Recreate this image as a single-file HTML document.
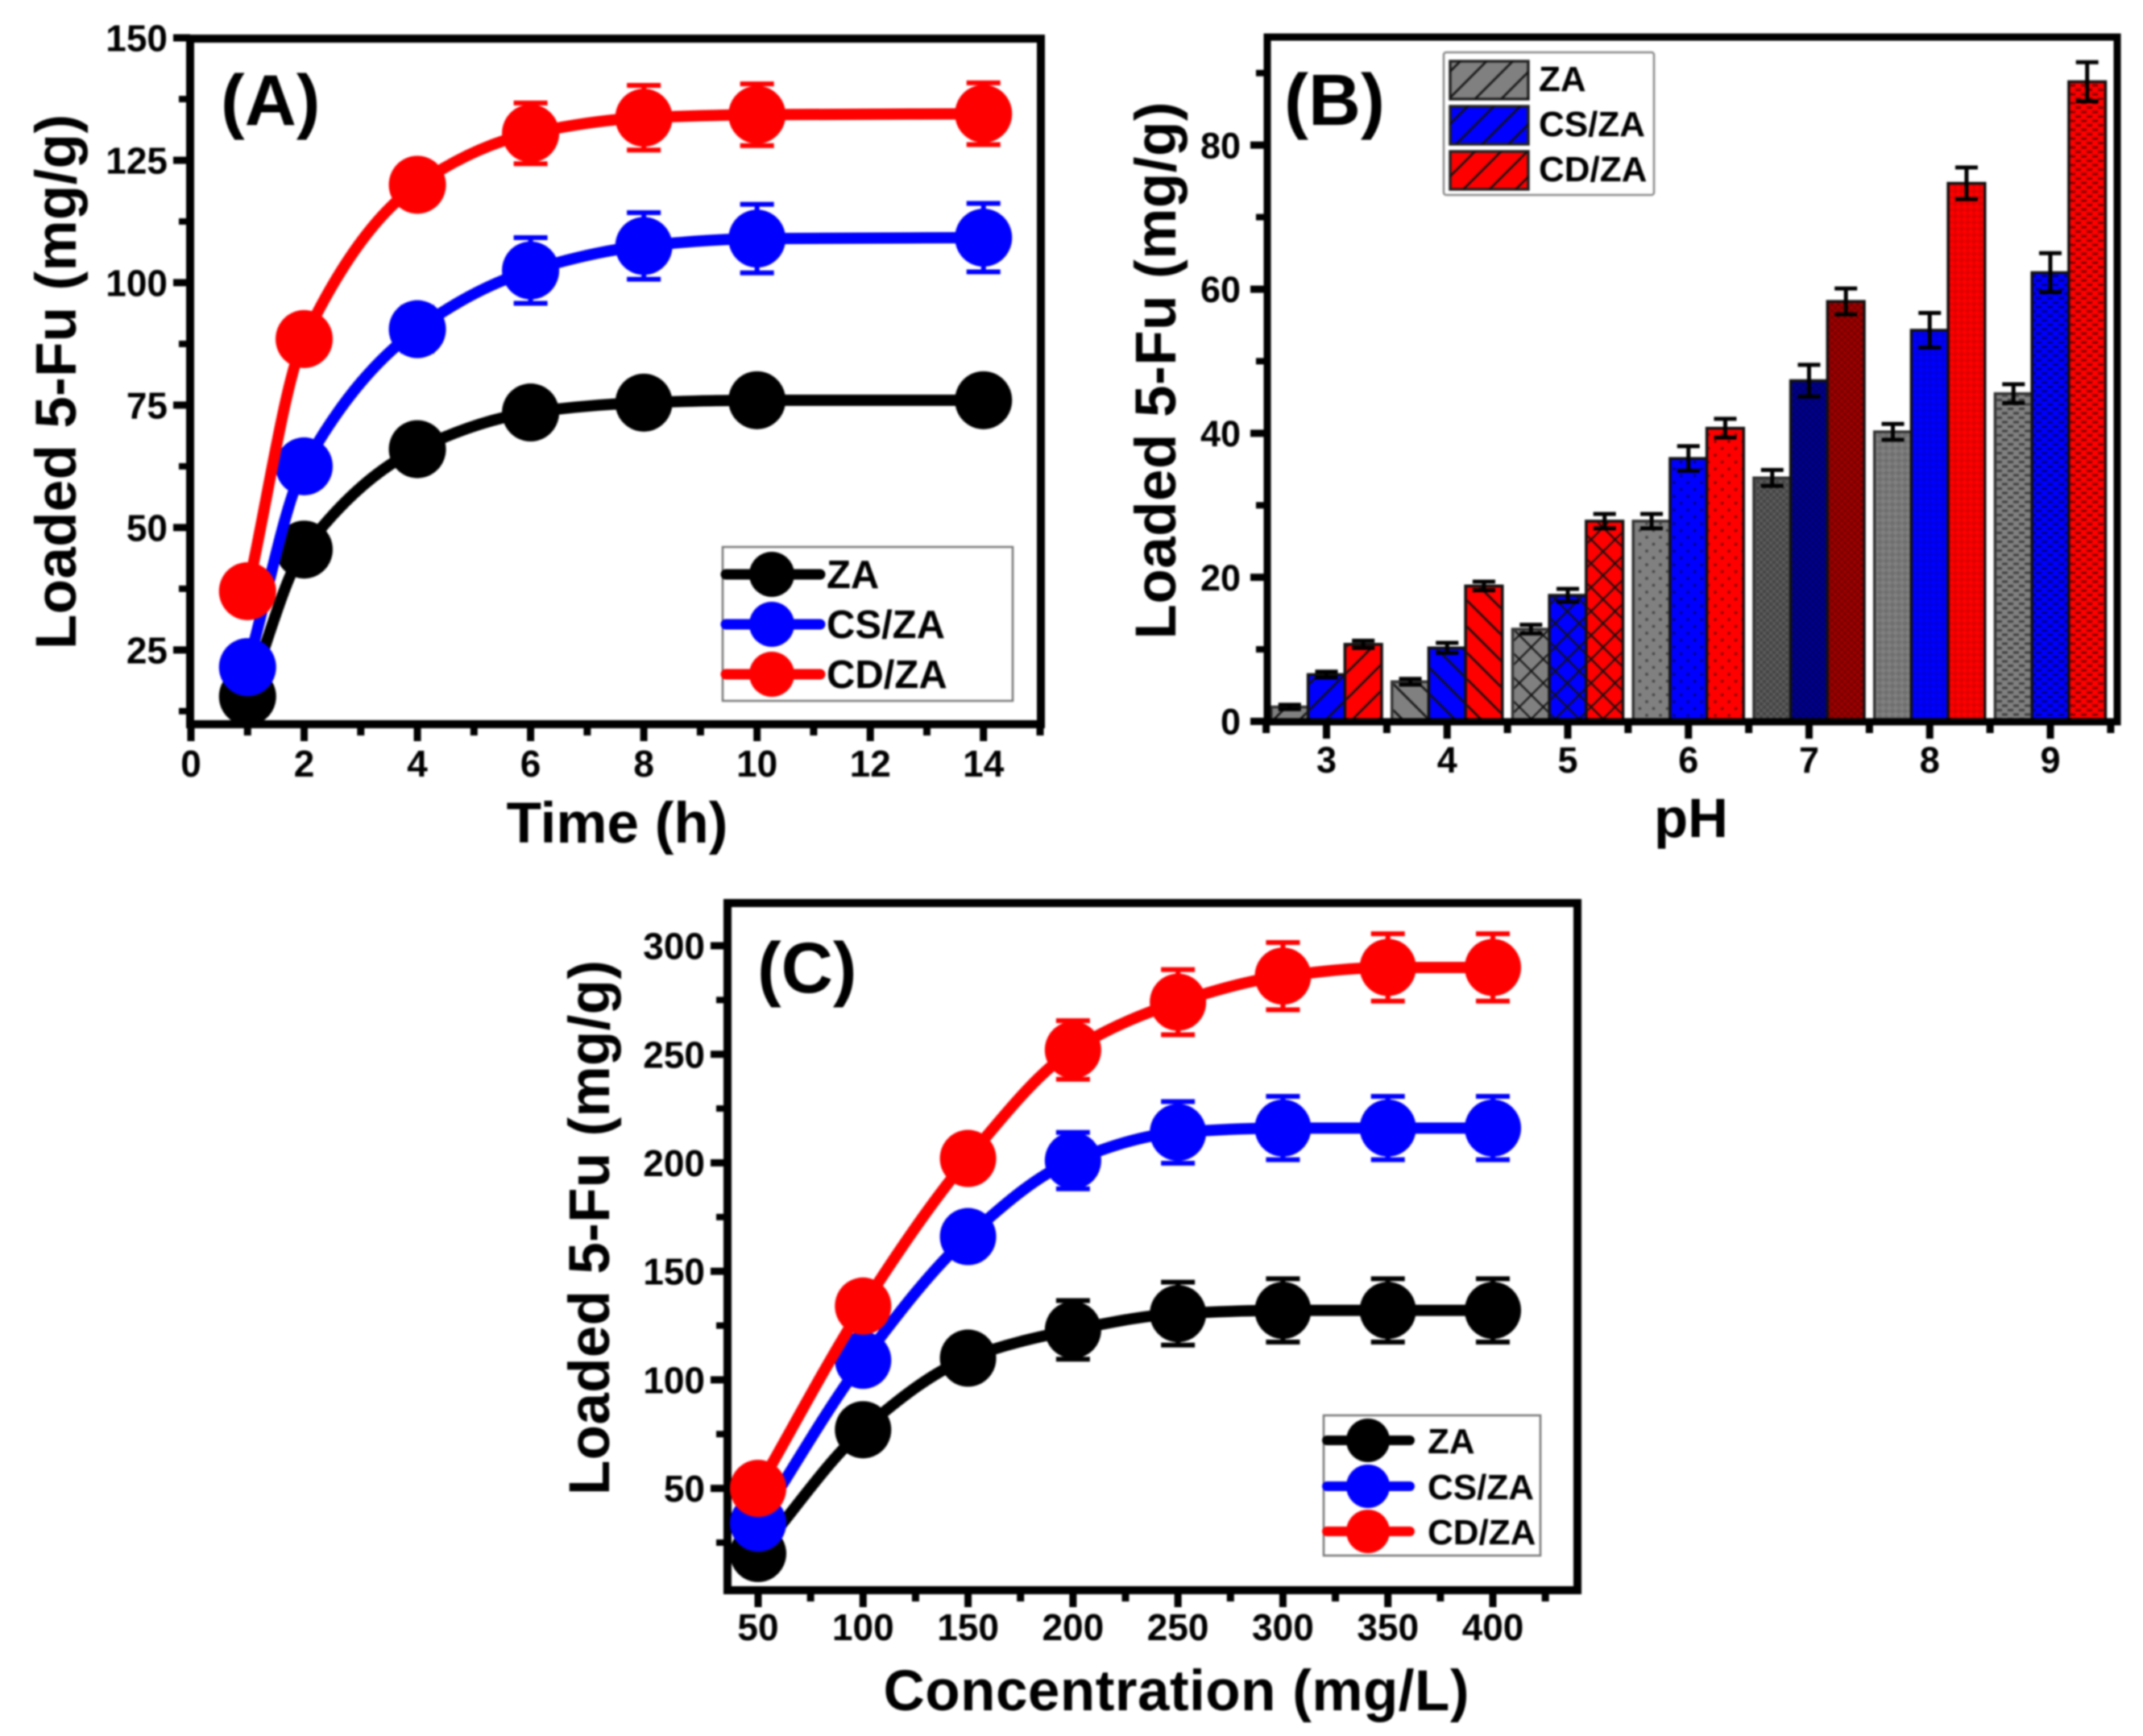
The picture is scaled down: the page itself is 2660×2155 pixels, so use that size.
<!DOCTYPE html>
<html lang="en">
<head>
<meta charset="utf-8">
<title>Loaded 5-Fu charts</title>
<style>
html,body{margin:0;padding:0;background:#fff;}
body{width:2660px;height:2155px;overflow:hidden;}
svg{display:block;filter:blur(1px);}
text{font-family:"Liberation Sans",sans-serif;font-weight:bold;fill:#000;}
</style>
</head>
<body>
<svg id="figure" xmlns="http://www.w3.org/2000/svg" width="2660" height="2155" viewBox="0 0 2660 2155">
<defs>
<pattern id="hatch-forward" patternUnits="userSpaceOnUse" width="23" height="23" patternTransform="rotate(45)"><line x1="1.5" y1="0" x2="1.5" y2="23" stroke="#111" stroke-width="2.6"/></pattern>
<pattern id="hatch-back" patternUnits="userSpaceOnUse" width="23" height="23" patternTransform="rotate(-45)"><line x1="1.5" y1="0" x2="1.5" y2="23" stroke="#111" stroke-width="2.6"/></pattern>
<pattern id="hatch-cross" patternUnits="userSpaceOnUse" width="21" height="21" patternTransform="rotate(45)"><path d="M1 0V21M0 1H21" stroke="#111" stroke-width="2.2" fill="none"/></pattern>
<pattern id="hatch-dots" patternUnits="userSpaceOnUse" width="17" height="17"><circle cx="4" cy="4" r="1.9" fill="#000" fill-opacity=".45"/><circle cx="12.5" cy="12.5" r="1.9" fill="#000" fill-opacity=".45"/></pattern>
<pattern id="hatch-fine-check" patternUnits="userSpaceOnUse" width="8" height="8"><rect x="0" y="0" width="4" height="4" fill="#000" fill-opacity=".26"/><rect x="4" y="4" width="4" height="4" fill="#000" fill-opacity=".26"/></pattern>
<pattern id="hatch-diag-check" patternUnits="userSpaceOnUse" width="11" height="11" patternTransform="rotate(45)"><rect x="0" y="0" width="5.5" height="5.5" fill="#000" fill-opacity=".13"/><rect x="5.5" y="5.5" width="5.5" height="5.5" fill="#000" fill-opacity=".13"/></pattern>
<pattern id="hatch-wave" patternUnits="userSpaceOnUse" width="14" height="11"><rect x="0" y="0" width="7" height="3" fill="#000" fill-opacity=".5"/><rect x="7" y="5.5" width="7" height="3" fill="#000" fill-opacity=".5"/></pattern>
</defs>

<g id="panel-a">
<rect x="236" y="48" width="1056" height="851" fill="none" stroke="#000" stroke-width="10"/>
<g id="a-ticks"></g>
<g id="a-series"></g>
<text x="274" y="155" font-size="89">(A)</text>
<text transform="translate(94 474) rotate(-90)" text-anchor="middle" font-size="71" textLength="664" lengthAdjust="spacing">Loaded 5-Fu (mg/g)</text>
<text x="766" y="1046" text-anchor="middle" font-size="71">Time (h)</text>
<g>
<rect x="897" y="679" width="360" height="191" fill="#fff" stroke="#777" stroke-width="2.5"/>
<g><line x1="901" x2="1018" y1="713" y2="713" stroke="#000" stroke-width="13" stroke-linecap="round"/><circle cx="958" cy="713" r="28"/><text x="1026" y="730" font-size="49">ZA</text></g>
<g><line x1="901" x2="1018" y1="775" y2="775" stroke="#0000ff" stroke-width="13" stroke-linecap="round"/><circle cx="958" cy="775" r="28" fill="#0000ff"/><text x="1026" y="792" font-size="49">CS/ZA</text></g>
<g><line x1="901" x2="1018" y1="837" y2="837" stroke="#ff0000" stroke-width="13" stroke-linecap="round"/><circle cx="958" cy="837" r="28" fill="#ff0000"/><text x="1026" y="854" font-size="49">CD/ZA</text></g>
</g>
</g>

<g id="panel-b">
<g id="b-bars"></g>
<rect x="1573" y="46" width="1055" height="850" fill="none" stroke="#000" stroke-width="9"/>
<g id="b-ticks"></g>
<text x="1594" y="155" font-size="90">(B)</text>
<text transform="translate(1459 460) rotate(-90)" text-anchor="middle" font-size="71" textLength="667" lengthAdjust="spacing">Loaded 5-Fu (mg/g)</text>
<text x="2099" y="1039" text-anchor="middle" font-size="69">pH</text>
<g>
<rect x="1792" y="65" width="261" height="177" rx="3" fill="#fff" stroke="#888" stroke-width="2.5"/>
<g><rect x="1800" y="76" width="97" height="47" fill="#808080" stroke="#222" stroke-width="3.5"/><rect x="1800" y="76" width="97" height="47" fill="url(#hatch-forward)"/><text x="1910" y="113" font-size="44">ZA</text></g>
<g><rect x="1800" y="132" width="97" height="47" fill="#0000ff" stroke="#222" stroke-width="3.5"/><rect x="1800" y="132" width="97" height="47" fill="url(#hatch-forward)"/><text x="1910" y="169" font-size="44">CS/ZA</text></g>
<g><rect x="1800" y="188" width="97" height="47" fill="#ff0000" stroke="#222" stroke-width="3.5"/><rect x="1800" y="188" width="97" height="47" fill="url(#hatch-forward)"/><text x="1910" y="225" font-size="44">CD/ZA</text></g>
</g>
</g>

<g id="panel-c">
<rect x="903" y="1121" width="1055" height="853" fill="none" stroke="#000" stroke-width="10"/>
<g id="c-ticks"></g>
<g id="c-series"></g>
<text x="940" y="1232" font-size="89">(C)</text>
<text transform="translate(756 1524) rotate(-90)" text-anchor="middle" font-size="71" textLength="664" lengthAdjust="spacing">Loaded 5-Fu (mg/g)</text>
<text x="1460" y="2123" text-anchor="middle" font-size="71" textLength="727" lengthAdjust="spacing">Concentration (mg/L)</text>
<g>
<rect x="1643" y="1757" width="269" height="174" fill="#fff" stroke="#777" stroke-width="2.5"/>
<g><line x1="1647" x2="1750" y1="1788" y2="1788" stroke="#000" stroke-width="12" stroke-linecap="round"/><circle cx="1698" cy="1788" r="27"/><text x="1772" y="1804" font-size="44">ZA</text></g>
<g><line x1="1647" x2="1750" y1="1845" y2="1845" stroke="#0000ff" stroke-width="12" stroke-linecap="round"/><circle cx="1698" cy="1845" r="27" fill="#0000ff"/><text x="1772" y="1861" font-size="44">CS/ZA</text></g>
<g><line x1="1647" x2="1750" y1="1901" y2="1901" stroke="#ff0000" stroke-width="12" stroke-linecap="round"/><circle cx="1698" cy="1901" r="27" fill="#ff0000"/><text x="1772" y="1917" font-size="44">CD/ZA</text></g>
</g>
</g>
</svg>

<script>
// Panel A data
const timeHours = [1, 2, 4, 6, 8, 10, 14];
const timeZA = [15.5, 45.5, 66, 73.5, 75.5, 76, 76];
const timeCS = [21.5, 62.5, 90.5, 102.5, 107.5, 109, 109.2];
const timeCD = [37, 88.5, 120, 130.5, 133.7, 134.3, 134.5];
const timeErrZA = [1, 2, 3, 3.5, 4, 4, 4];
const timeErrCS = [2, 3, 4.5, 6.7, 6.8, 7, 7];
const timeErrCD = [2, 4, 4, 6.2, 6.6, 6.3, 6.3];
const timeXTicks = [0, 2, 4, 6, 8, 10, 12, 14];
const timeXMinor = [1, 3, 5, 7, 9, 11, 13, 15];
const timeYTicks = [25, 50, 75, 100, 125, 150];
const timeYMinor = [12.5, 37.5, 62.5, 87.5, 112.5, 137.5];

// Panel B data
const phCategories = [3, 4, 5, 6, 7, 8, 9];
const phZA = [2, 5.5, 12.8, 27.8, 33.8, 40.2, 45.5];
const phCS = [6.5, 10.2, 17.5, 36.5, 47.3, 54.3, 62.3];
const phCD = [10.7, 18.8, 27.8, 40.7, 58.3, 74.7, 88.8];
const phErrZA = [0.3, 0.4, 0.6, 1, 1.1, 1.1, 1.3];
const phErrCS = [0.4, 0.7, 0.9, 1.7, 2.2, 2.4, 2.7];
const phErrCD = [0.5, 0.6, 1, 1.3, 1.8, 2.2, 2.7];
const phYTicks = [0, 20, 40, 60, 80];
const phYMinor = [10, 30, 50, 70, 90];

// Panel C data
const concLevels = [50, 100, 150, 200, 250, 300, 350, 400];
const concZA = [20, 77, 110, 123, 130.5, 132, 132, 132];
const concCS = [34, 109, 166, 201, 214, 216, 216, 216];
const concCD = [50, 134, 202, 252, 274, 286, 290, 290];
const concErrZA = [2, 6, 9, 13.5, 14.5, 14.6, 14.6, 14.6];
const concErrCS = [3, 8, 9, 13, 14.2, 14.6, 14.6, 14.6];
const concErrCD = [3, 8, 9, 13.5, 15, 15.5, 15.5, 15.5];
const concXTicks = [50, 100, 150, 200, 250, 300, 350, 400];
const concXMinor = [75, 125, 175, 225, 275, 325, 375, 425];
const concYTicks = [50, 100, 150, 200, 250, 300];
const concYMinor = [25, 75, 125, 175, 225, 275];

const SVGNS = 'http://www.w3.org/2000/svg';
function mk(tag, attrs, parent) {
  const el = document.createElementNS(SVGNS, tag);
  for (const k in attrs) el.setAttribute(k, attrs[k]);
  parent.appendChild(el);
  return el;
}
function linear(d0, d1, r0, r1) {
  return function (v) { return r0 + (v - d0) * (r1 - r0) / (d1 - d0); };
}

// Axis drawing: ticks and labels derive from the tick arrays through the scales
function drawAxes(parent, sx, sy, xBase, yBase, xTicks, xMinor, yTicks, yMinor, xLabelY, yLabelX, fontSize) {
  xTicks.forEach(function (v) {
    const tick = mk('line', { x1: sx(v), x2: sx(v), y1: yBase, y2: yBase + 21, stroke: '#000', 'stroke-width': 9 }, parent);
    
    
    const label = mk('text', { x: sx(v), y: xLabelY, 'text-anchor': 'middle', 'font-size': fontSize }, parent);
    label.textContent = v;
    
    
  });
  xMinor.forEach(function (v) {
    const tick = mk('line', { x1: sx(v), x2: sx(v), y1: yBase, y2: yBase + 14, stroke: '#000', 'stroke-width': 9 }, parent);
    
    
  });
  yTicks.forEach(function (v) {
    const tick = mk('line', { x1: xBase - 21, x2: xBase, y1: sy(v), y2: sy(v), stroke: '#000', 'stroke-width': 9 }, parent);
    
    
    const label = mk('text', { x: yLabelX, y: sy(v) + fontSize * 0.36, 'text-anchor': 'end', 'font-size': fontSize }, parent);
    label.textContent = v;
    
    
  });
  yMinor.forEach(function (v) {
    const tick = mk('line', { x1: xBase - 14, x2: xBase, y1: sy(v), y2: sy(v), stroke: '#000', 'stroke-width': 8 }, parent);
    
    
  });
}

// Monotone cubic path through the given pixel points
function smoothPath(px, py) {
  const n = px.length, d = [], m = [];
  for (let i = 0; i < n - 1; i++) d.push((py[i + 1] - py[i]) / (px[i + 1] - px[i]));
  m[0] = d[0];
  m[n - 1] = d[n - 2];
  for (let i = 1; i < n - 1; i++) {
    m[i] = d[i - 1] * d[i] <= 0 ? 0 : 2 * d[i - 1] * d[i] / (d[i - 1] + d[i]);
  }
  let s = 'M' + px[0] + ' ' + py[0];
  for (let i = 0; i < n - 1; i++) {
    const h = (px[i + 1] - px[i]) / 3;
    s += 'C' + (px[i] + h) + ' ' + (py[i] + m[i] * h) + ' ' + (px[i + 1] - h) + ' ' + (py[i + 1] - m[i + 1] * h) + ' ' + px[i + 1] + ' ' + py[i + 1];
  }
  return s;
}

function drawSeries(parent, name, color, xs, ys, errs, sx, sy, radius, lineW, capW) {
  const g = mk('g', {}, parent);
  
  
  const curve = mk('path', { d: smoothPath(xs.map(sx), ys.map(sy)), fill: 'none', stroke: color, 'stroke-width': lineW }, g);
  
  
  xs.forEach(function (x, i) {
    const cx = sx(x), top = sy(ys[i] + errs[i]), bot = sy(ys[i] - errs[i]);
    const err = mk('path', { d: 'M' + cx + ' ' + top + 'V' + bot + 'M' + (cx - capW / 2) + ' ' + top + 'H' + (cx + capW / 2) + 'M' + (cx - capW / 2) + ' ' + bot + 'H' + (cx + capW / 2), fill: 'none', stroke: color, 'stroke-width': 6 }, g);
    
    
    const dot = mk('ellipse', { cx: cx, cy: sy(ys[i]), rx: radius, ry: radius + 0.5, fill: color }, g);
    
    
  });
}

// Panel A
const ax = linear(0, 15, 237, 1291);
const ay = linear(10, 150, 898, 47);
drawAxes(document.getElementById('a-ticks'), ax, ay, 236, 899, timeXTicks, timeXMinor, timeYTicks, timeYMinor, 964, 208, 46);
const aSeries = document.getElementById('a-series');
drawSeries(aSeries, 'za', '#000000', timeHours, timeZA, timeErrZA, ax, ay, 35.5, 14, 42);
drawSeries(aSeries, 'cs-za', '#0000ff', timeHours, timeCS, timeErrCS, ax, ay, 35.5, 14, 42);
drawSeries(aSeries, 'cd-za', '#ff0000', timeHours, timeCD, timeErrCD, ax, ay, 35.5, 14, 42);

// Panel B
const bx = linear(3, 9, 1646.5, 2545);
const by = linear(0, 95, 895.5, 46);
const barWidth = 45.7;
const groupPatterns = ['hatch-forward', 'hatch-back', 'hatch-cross', 'hatch-dots', 'hatch-fine-check', 'hatch-diag-check', 'hatch-wave'];
const barColors = ['#808080', '#0000ff', '#ff0000'];
const darkBarColors = ['#5c5c5c', '#00008f', '#a00000'];
const bBars = document.getElementById('b-bars');
[phZA, phCS, phCD].forEach(function (values, s) {
  const errs = [phErrZA, phErrCS, phErrCD][s];
  const sName = ['za', 'cs-za', 'cd-za'][s];
  values.forEach(function (v, i) {
    const left = bx(phCategories[i]) + (s - 1.5) * barWidth;
    const top = by(v), h = by(0) - top;
    const fill = i === 4 ? darkBarColors[s] : barColors[s];
    const bar = mk('rect', { x: left, y: top, width: barWidth, height: h, fill: fill, stroke: s === 0 ? '#333' : '#111', 'stroke-width': 3.5 }, bBars);
    
    
    const hatch = mk('rect', { x: left + 2, y: top + 2, width: barWidth - 4, height: h - 2, fill: 'url(#' + groupPatterns[i] + ')' }, bBars);
    
    
  });
  values.forEach(function (v, i) {
    const cx = bx(phCategories[i]) + (s - 1) * barWidth;
    const t = by(v + errs[i]), b = by(v - errs[i]);
    const err = mk('path', { d: 'M' + cx + ' ' + t + 'V' + b + 'M' + (cx - 14) + ' ' + t + 'H' + (cx + 14) + 'M' + (cx - 14) + ' ' + b + 'H' + (cx + 14), fill: 'none', stroke: '#000', 'stroke-width': 5 }, bBars);
    
    
  });
});
const phMinor = [2.5, 3.5, 4.5, 5.5, 6.5, 7.5, 8.5, 9.5];
drawAxes(document.getElementById('b-ticks'), bx, by, 1573, 896, phCategories, phMinor, phYTicks, phYMinor, 959, 1540, 45);

// Panel C
const cx0 = linear(50, 400, 941, 1853);
const cy0 = linear(50, 300, 1847.6, 1174);
drawAxes(document.getElementById('c-ticks'), cx0, cy0, 903, 1974, concXTicks, concXMinor, concYTicks, concYMinor, 2036, 875, 46);
const cSeries = document.getElementById('c-series');
drawSeries(cSeries, 'za', '#000000', concLevels, concZA, concErrZA, cx0, cy0, 35, 14, 42);
drawSeries(cSeries, 'cs-za', '#0000ff', concLevels, concCS, concErrCS, cx0, cy0, 35, 14, 42);
drawSeries(cSeries, 'cd-za', '#ff0000', concLevels, concCD, concErrCD, cx0, cy0, 35, 14, 42);
</script>
</body>
</html>
